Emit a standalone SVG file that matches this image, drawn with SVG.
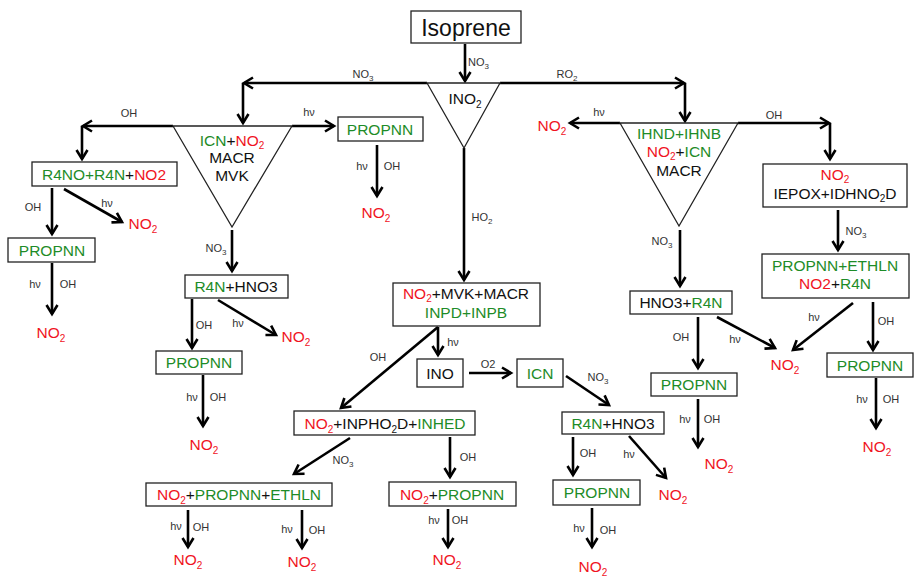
<svg xmlns="http://www.w3.org/2000/svg" width="915" height="577" viewBox="0 0 915 577">
<style>
.b{fill:#fff;stroke:#222;stroke-width:1.3}
.tri{fill:#fff;stroke:#222;stroke-width:1.3}
.t{font-family:"Liberation Sans",Arial,sans-serif;font-size:15.5px;text-anchor:middle;fill:#111}
.g{fill:#1e8c28}
.r{fill:#f0141e}
.k{fill:#111}
.s{font-family:"Liberation Sans",Arial,sans-serif;font-size:11px;fill:#333;text-anchor:middle}
.a{fill:none;stroke:#000;stroke-width:2.6;marker-end:url(#ah)}
.sub{font-size:10px}
.ss{font-size:8px}
</style>
<defs>
<marker id="ah" markerUnits="userSpaceOnUse" markerWidth="16" markerHeight="16" viewBox="-4 -8 16 16" refX="9" refY="0" orient="auto">
<path d="M0,-5.5 L9,0 L0,5.5" fill="none" stroke="#000" stroke-width="2.6" stroke-linejoin="miter"/>
</marker>
</defs>
<rect width="915" height="577" fill="#fff"/>

<g id="connectors">
<path class="a" d="M465,44 V81"/>
<path class="a" d="M427,83 H244"/>
<path class="a" d="M243,83 V123"/>
<path class="a" d="M500,83 H684"/>
<path class="a" d="M685,83 V121"/>
<path class="a" d="M464,148 V280"/>
<path class="a" d="M173,126 H83"/>
<path class="a" d="M82,126 V159"/>
<path class="a" d="M292,126 H334"/>
<path class="a" d="M377,145 V196"/>
<path class="a" d="M52,188 V234"/>
<path class="a" d="M64,189 L122,222"/>
<path class="a" d="M52,263 V314"/>
<path class="a" d="M232,230 V271"/>
<path class="a" d="M192,299 V348"/>
<path class="a" d="M218,300 L276,335"/>
<path class="a" d="M203,375 V426"/>
<path class="a" d="M438,327 V355"/>
<path class="a" d="M438,327 L341,408"/>
<path class="a" d="M469,373 H511"/>
<path class="a" d="M566,376 L609,405"/>
<path class="a" d="M350,438 L294,474"/>
<path class="a" d="M450,437 V477"/>
<path class="a" d="M188,510 V547"/>
<path class="a" d="M302,510 V548"/>
<path class="a" d="M448,509 V547"/>
<path class="a" d="M573,437 V475"/>
<path class="a" d="M629,436 L666,478"/>
<path class="a" d="M592,508 V547"/>
<path class="a" d="M620,123 H570"/>
<path class="a" d="M738,123 H829"/>
<path class="a" d="M830,123 V159"/>
<path class="a" d="M838,210 V250"/>
<path class="a" d="M680,230 V286"/>
<path class="a" d="M698,317 V368"/>
<path class="a" d="M717,317 L775,348"/>
<path class="a" d="M853,303 L793,350"/>
<path class="a" d="M873,302 V350"/>
<path class="a" d="M698,399 V447"/>
<path class="a" d="M876,378 V428"/>
</g>

<g id="labels">
<text class="s" x="468" y="66" style="text-anchor:start">NO<tspan class="ss" dy="3">3</tspan></text>
<text class="s" x="363" y="78">NO<tspan class="ss" dy="3">3</tspan></text>
<text class="s" x="567" y="78">RO<tspan class="ss" dy="3">2</tspan></text>
<text class="s" x="129" y="117">OH</text>
<text class="s" x="309" y="116">hν</text>
<text class="s" x="362" y="170">hν</text>
<text class="s" x="392" y="170">OH</text>
<text class="s" x="599" y="116">hν</text>
<text class="s" x="774" y="119">OH</text>
<text class="s" x="482" y="221">HO<tspan class="ss" dy="3">2</tspan></text>
<text class="s" x="33" y="211">OH</text>
<text class="s" x="107" y="207">hν</text>
<text class="s" x="35" y="288">hν</text>
<text class="s" x="68" y="288">OH</text>
<text class="s" x="216" y="252">NO<tspan class="ss" dy="3">3</tspan></text>
<text class="s" x="204" y="329">OH</text>
<text class="s" x="238" y="327">hν</text>
<text class="s" x="192" y="401">hν</text>
<text class="s" x="218" y="401">OH</text>
<text class="s" x="453" y="346">hν</text>
<text class="s" x="378" y="361">OH</text>
<text class="s" x="488" y="368">O2</text>
<text class="s" x="598" y="381">NO<tspan class="ss" dy="3">3</tspan></text>
<text class="s" x="343" y="464">NO<tspan class="ss" dy="3">3</tspan></text>
<text class="s" x="468" y="461">OH</text>
<text class="s" x="176" y="530">hν</text>
<text class="s" x="201" y="531">OH</text>
<text class="s" x="287" y="533">hν</text>
<text class="s" x="317" y="534">OH</text>
<text class="s" x="434" y="524">hν</text>
<text class="s" x="460" y="524">OH</text>
<text class="s" x="588" y="457">OH</text>
<text class="s" x="629" y="458">hν</text>
<text class="s" x="579" y="532">hν</text>
<text class="s" x="608" y="534">OH</text>
<text class="s" x="662" y="245">NO<tspan class="ss" dy="3">3</tspan></text>
<text class="s" x="856" y="235">NO<tspan class="ss" dy="3">3</tspan></text>
<text class="s" x="681" y="341">OH</text>
<text class="s" x="735" y="343">hν</text>
<text class="s" x="814" y="321">hν</text>
<text class="s" x="886" y="325">OH</text>
<text class="s" x="685" y="423">hν</text>
<text class="s" x="712" y="423">OH</text>
<text class="s" x="862" y="403">hν</text>
<text class="s" x="891" y="403">OH</text>
</g>

<g id="no2-products">
<text class="t r" x="376" y="218">NO<tspan class="sub" dy="4">2</tspan></text>
<text class="t r" x="143" y="229">NO<tspan class="sub" dy="4">2</tspan></text>
<text class="t r" x="51" y="338">NO<tspan class="sub" dy="4">2</tspan></text>
<text class="t r" x="296" y="342">NO<tspan class="sub" dy="4">2</tspan></text>
<text class="t r" x="204" y="450">NO<tspan class="sub" dy="4">2</tspan></text>
<text class="t r" x="188" y="565">NO<tspan class="sub" dy="4">2</tspan></text>
<text class="t r" x="302" y="567">NO<tspan class="sub" dy="4">2</tspan></text>
<text class="t r" x="447" y="565">NO<tspan class="sub" dy="4">2</tspan></text>
<text class="t r" x="673" y="500">NO<tspan class="sub" dy="4">2</tspan></text>
<text class="t r" x="593" y="572">NO<tspan class="sub" dy="4">2</tspan></text>
<text class="t r" x="552" y="131">NO<tspan class="sub" dy="4">2</tspan></text>
<text class="t r" x="785" y="370">NO<tspan class="sub" dy="4">2</tspan></text>
<text class="t r" x="719" y="469">NO<tspan class="sub" dy="4">2</tspan></text>
<text class="t r" x="877" y="452">NO<tspan class="sub" dy="4">2</tspan></text>
</g>

<g id="isoprene">
<rect class="b" x="411" y="11" width="110" height="32"/>
<text class="t" x="466" y="36" style="font-size:23px">Isoprene</text>
</g>

<g id="ino2">
<path class="tri" d="M427,83 H500 L464,148 Z"/>
<text class="t" x="465" y="104">INO<tspan class="sub" dy="4">2</tspan></text>
</g>

<g id="tri-left">
<path class="tri" d="M173,126 H292 L232,227 Z"/>
<text class="t" x="232" y="146"><tspan class="g">ICN</tspan>+<tspan class="r">NO</tspan><tspan class="r sub" dy="3">2</tspan></text>
<text class="t" x="232" y="163">MACR</text>
<text class="t" x="232" y="181">MVK</text>
</g>

<g id="propnn-top">
<rect class="b" x="338" y="117" width="85" height="24"/>
<text class="t g" x="380" y="135">PROPNN</text>
</g>

<g id="r4no">
<rect class="b" x="32" y="162" width="145" height="24"/>
<text class="t" x="104" y="180"><tspan class="g">R4NO+R4N</tspan>+<tspan class="r">NO2</tspan></text>
</g>

<g id="propnn-left">
<rect class="b" x="8" y="238" width="87" height="24"/>
<text class="t g" x="52" y="256">PROPNN</text>
</g>

<g id="r4n-hno3-left">
<rect class="b" x="185" y="275" width="103" height="23"/>
<text class="t" x="236" y="292"><tspan class="g">R4N</tspan>+HNO3</text>
</g>

<g id="propnn-left2">
<rect class="b" x="156" y="351" width="86" height="23"/>
<text class="t g" x="199" y="368">PROPNN</text>
</g>

<g id="center-box">
<rect class="b" x="393" y="283" width="147" height="43"/>
<text class="t" x="466" y="299"><tspan class="r">NO</tspan><tspan class="r sub" dy="3">2</tspan><tspan dy="-3">+MVK+MACR</tspan></text>
<text class="t g" x="466" y="318">INPD+INPB</text>
</g>

<g id="ino">
<rect class="b" x="417" y="359" width="46" height="28"/>
<text class="t" x="440" y="379">INO</text>
</g>

<g id="icn">
<rect class="b" x="517" y="359" width="46" height="28"/>
<text class="t g" x="540" y="379">ICN</text>
</g>

<g id="inpho2d">
<rect class="b" x="294" y="411" width="181" height="24"/>
<text class="t" x="385" y="429"><tspan class="r">NO</tspan><tspan class="r sub" dy="4">2</tspan><tspan dy="-4">+INPHO</tspan><tspan class="sub" dy="4">2</tspan><tspan dy="-4">D+</tspan><tspan class="g">INHED</tspan></text>
</g>

<g id="propnn-ethln">
<rect class="b" x="146" y="483" width="186" height="23"/>
<text class="t" x="239" y="500"><tspan class="r">NO</tspan><tspan class="r sub" dy="4">2</tspan><tspan dy="-4">+</tspan><tspan class="g">PROPNN</tspan>+<tspan class="g">ETHLN</tspan></text>
</g>

<g id="no2-propnn">
<rect class="b" x="389" y="482" width="127" height="24"/>
<text class="t" x="452" y="500"><tspan class="r">NO</tspan><tspan class="r sub" dy="4">2</tspan><tspan dy="-4">+</tspan><tspan class="g">PROPNN</tspan></text>
</g>

<g id="r4n-hno3-mid">
<rect class="b" x="562" y="412" width="102" height="22"/>
<text class="t" x="613" y="429"><tspan class="g">R4N</tspan>+HNO3</text>
</g>

<g id="propnn-mid">
<rect class="b" x="553" y="480" width="87" height="25"/>
<text class="t g" x="597" y="498">PROPNN</text>
</g>

<g id="tri-right">
<path class="tri" d="M620,123 H738 L679,226 Z"/>
<text class="t g" x="679" y="139">IHND+IHNB</text>
<text class="t" x="679" y="157"><tspan class="r">NO</tspan><tspan class="r sub" dy="3">2</tspan><tspan dy="-3">+</tspan><tspan class="g">ICN</tspan></text>
<text class="t" x="679" y="176">MACR</text>
</g>

<g id="iepox">
<rect class="b" x="763" y="164" width="144" height="43"/>
<text class="t r" x="835" y="180">NO<tspan class="sub" dy="3">2</tspan></text>
<text class="t" x="835" y="199">IEPOX+IDHNO<tspan class="sub" dy="3">2</tspan><tspan dy="-3">D</tspan></text>
</g>

<g id="hno3-r4n">
<rect class="b" x="630" y="291" width="102" height="23"/>
<text class="t" x="681" y="308">HNO3+<tspan class="g">R4N</tspan></text>
</g>

<g id="propnn-ethln-right">
<rect class="b" x="762" y="254" width="147" height="44"/>
<text class="t g" x="835" y="271">PROPNN+ETHLN</text>
<text class="t" x="835" y="289"><tspan class="r">NO2</tspan>+<tspan class="g">R4N</tspan></text>
</g>

<g id="propnn-right1">
<rect class="b" x="651" y="373" width="86" height="23"/>
<text class="t g" x="694" y="390">PROPNN</text>
</g>

<g id="propnn-right2">
<rect class="b" x="827" y="353" width="86" height="24"/>
<text class="t g" x="870" y="371">PROPNN</text>
</g>
</svg>
